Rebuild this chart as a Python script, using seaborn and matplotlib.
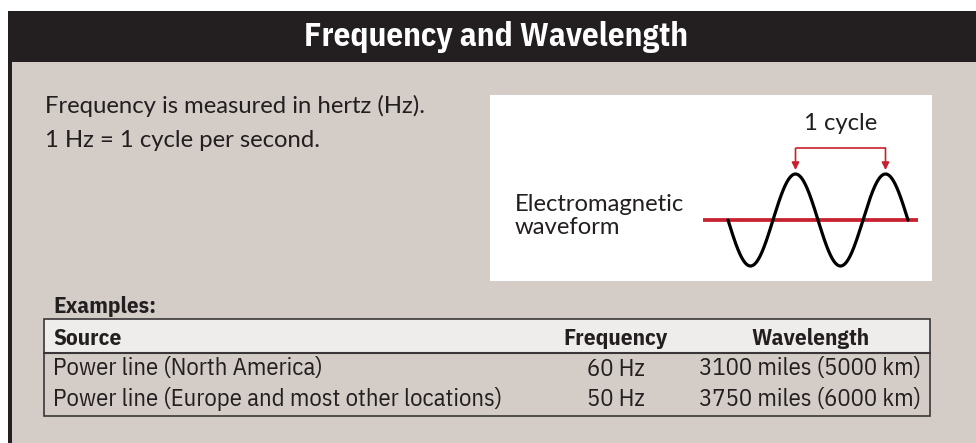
import numpy as np
import pandas as pd
import matplotlib
matplotlib.use("Agg")
import matplotlib.pyplot as plt
from matplotlib.patches import Rectangle
from matplotlib.textpath import TextPath
from matplotlib.font_manager import FontProperties
import seaborn as sns

# ---------------- data ----------------
title = "Frequency and Wavelength"
intro_lines = ["Frequency is measured in hertz (Hz).", "1 Hz = 1 cycle per second."]
wave_label = ["Electromagnetic", "waveform"]
cycle_label = "1 cycle"
wave_cycles = 2
examples_label = "Examples:"
table_columns = ["Source", "Frequency", "Wavelength"]
sources = ["Power line (North America)", "Power line (Europe and most other locations)"]
frequencies_hz = [60, 50]
wavelength_miles = [3100, 3750]
wavelength_km = [5000, 6000]

# ---------------- style ----------------
W, H, DPI = 976, 443, 100
DARK = "#231f20"
BODY = "#d3ccc7"
HEAD = "#efedeb"
RED = "#c8202e"
NARROW = ["IBM Plex Sans Condensed", "DejaVu Sans"]
HUMAN = ["Lato", "DejaVu Sans"]

sns.set_theme(style="white")
plt.rcParams["font.family"] = HUMAN

fig = plt.figure(figsize=(W / DPI, H / DPI), dpi=DPI)
fig.patch.set_facecolor("white")
ax = fig.add_axes([0, 0, 1, 1])
ax.set_xlim(0, W)
ax.set_ylim(H, 0)
ax.axis("off")
renderer = fig.canvas.get_renderer()


def fit(t, width, cap=None, wt=0.65):
    for _ in range(3):
        w = t.get_window_extent(renderer).width
        t.set_fontsize(t.get_fontsize() * width / w)
    fs = t.get_fontsize()
    if cap is not None:
        fp = FontProperties(family=t.get_fontfamily(), weight=t.get_fontweight())
        h = TextPath((0, 0), "H", size=100, prop=fp).get_extents().height / 100.0
        fs_cap = cap / h * 72.0 / DPI
        fs = float(fs ** wt * fs_cap ** (1 - wt))
        t.set_fontsize(fs)
    return fs


# frame
ax.add_patch(Rectangle((8, 11), W - 8, 51, fc=DARK, ec="none"))
ax.add_patch(Rectangle((12, 62), W - 12, H - 62, fc=BODY, ec="none"))
ax.add_patch(Rectangle((8, 11), 4, H - 11, fc=DARK, ec="none"))

# title
t = ax.text(496, 37, title, color="white", fontweight="bold", family=NARROW,
            ha="center", va="center", fontsize=20)
fit(t, 414, 20)

# intro text
t1 = ax.text(45, 113, intro_lines[0], color=DARK, ha="left", va="baseline", fontsize=14)
fs_body = fit(t1, 382)
ax.text(45, 147, intro_lines[1], color=DARK, ha="left", va="baseline", fontsize=fs_body)

# white diagram box
ax.add_patch(Rectangle((490, 95), 442, 186, fc="white", ec="none"))
e1 = ax.text(515, 211, wave_label[0], color=DARK, ha="left", va="baseline", fontsize=fs_body)
fs_w = fit(e1, 169)
ax.text(515, 234, wave_label[1], color=DARK, ha="left", va="baseline", fontsize=fs_w)
ax.text(840.5, 130, cycle_label, color=DARK, ha="center", va="baseline", fontsize=fs_w)

# wave inset (units: cycles horizontally, amplitude vertically)
px0, px1, py0, py1 = 700, 925, 105, 275
x0, per, yc, amp = 728, 90, 220, 46
axw = fig.add_axes([px0 / W, 1 - py1 / H, (px1 - px0) / W, (py1 - py0) / H])
axw.set_facecolor("none")
axw.axis("off")
axw.set_xlim((px0 - x0) / per, (px1 - x0) / per)
axw.set_ylim((yc - py1) / amp, (yc - py0) / amp)

tt = np.linspace(0, wave_cycles, 600)
wave = pd.DataFrame({"cycle": tt, "field": -np.sin(2 * np.pi * tt)})
axw.hlines(0, (703 - x0) / per, (918 - x0) / per, color=RED, lw=2.7, zorder=2)
sns.lineplot(data=wave, x="cycle", y="field", ax=axw, color="black", lw=2.3,
             sort=False, zorder=3)

peaks = [0.75 + k for k in range(wave_cycles)]
yb, ytip = (yc - 148.3) / amp, (yc - 170) / amp
axw.plot([peaks[0], peaks[-1]], [yb, yb], color=RED, lw=1.2, solid_capstyle="butt")
for p in peaks:
    axw.annotate("", xy=(p, ytip), xytext=(p, yb),
                 arrowprops=dict(arrowstyle="-|>", color=RED, lw=1.2,
                                 mutation_scale=11, shrinkA=0, shrinkB=0))

# examples table
ex = ax.text(53, 313, examples_label, color=DARK, fontweight="bold", family=NARROW,
             ha="left", va="baseline", fontsize=14)
fit(ex, 106, 15)

tx0, tx1, ty0, thead, ty1 = 44, 930, 319, 353, 416
ax.add_patch(Rectangle((tx0, ty0), tx1 - tx0, thead - ty0, fc=HEAD, ec="none"))
ax.add_patch(Rectangle((tx0, ty0), tx1 - tx0, ty1 - ty0, fill=False, ec="#3a3637", lw=1.2))
ax.plot([tx0, tx1], [thead, thead], color="#3a3637", lw=1.5)

col_x = [53, 616, 810]
col_ha = ["left", "center", "center"]
hf = ax.text(col_x[1], 345, table_columns[1], color=DARK, fontweight="bold", family=NARROW,
             ha="center", va="baseline", fontsize=14)
fs_head = fit(hf, 107, 15.5)
for i in (0, 2):
    ax.text(col_x[i], 345, table_columns[i], color=DARK, fontweight="bold", family=NARROW,
            ha=col_ha[i], va="baseline", fontsize=fs_head)

row_base = [375.5, 406]
probe = ax.text(col_x[0], row_base[1], sources[1], color=DARK, family=NARROW,
                ha="left", va="baseline", fontsize=14)
fs_row = fit(probe, 477, 15.5)
probe.remove()
for r in range(len(sources)):
    ax.text(col_x[0], row_base[r], sources[r], color=DARK, family=NARROW,
            ha="left", va="baseline", fontsize=fs_row)
    ax.text(col_x[1], row_base[r], f"{frequencies_hz[r]} Hz", color=DARK, family=NARROW,
            ha="center", va="baseline", fontsize=fs_row)
    ax.text(col_x[2], row_base[r], f"{wavelength_miles[r]} miles ({wavelength_km[r]} km)",
            color=DARK, family=NARROW, ha="center", va="baseline", fontsize=fs_row)

fig.savefig("out.png", dpi=DPI, facecolor="white")
